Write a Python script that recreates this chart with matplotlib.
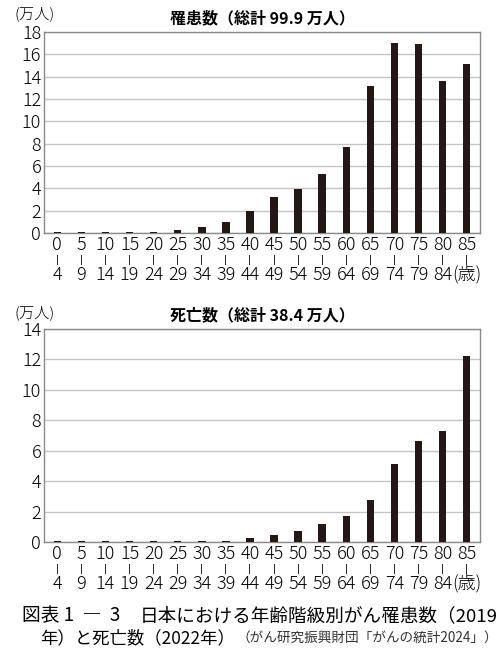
"""年齢階級別がん罹患数と死亡数（図表1-3）の再現。"""

import matplotlib

matplotlib.use("Agg")
import matplotlib.pyplot as plt
import numpy as np

plt.rcParams["font.family"] = ["Noto Sans CJK JP", "DejaVu Sans"]

# age groups (lower / upper bound)
age_lo = ["0", "5", "10", "15", "20", "25", "30", "35", "40",
          "45", "50", "55", "60", "65", "70", "75", "80", "85"]
age_hi = ["4", "9", "14", "19", "24", "29", "34", "39", "44",
          "49", "54", "59", "64", "69", "74", "79", "84", "(歳)"]

# 罹患数 2019 (万人)
incidence = [0.1, 0.1, 0.1, 0.1, 0.1, 0.3, 0.5, 1.0, 2.0,
             3.25, 3.95, 5.25, 7.75, 13.15, 17.05, 16.95, 13.65, 15.1]
# 死亡数 2022 (万人)
deaths = [0.08, 0.08, 0.08, 0.08, 0.08, 0.08, 0.08, 0.08, 0.24,
          0.46, 0.74, 1.18, 1.68, 2.76, 5.14, 6.67, 7.29, 12.23]

BAR = "#231815"
GRID = "#c4c4c4"
SPINE = "#8a8a8a"


def draw_panel(ax, values, ymax, title, unit_y):
    x = np.arange(len(values))
    ax.bar(x, values, width=0.31, color=BAR, zorder=3)
    ax.set_xlim(-0.55, len(values) - 0.45)
    ax.set_ylim(0, ymax)
    ax.set_yticks(np.arange(0, ymax + 1, 2))
    ax.grid(axis="y", color=GRID, lw=1.0, zorder=0)
    ax.tick_params(axis="y", length=0, pad=2, labelsize=13)
    ax.tick_params(axis="x", length=0, pad=2, labelsize=13)
    ax.set_xticks(x)
    ax.set_xticklabels([f"{lo}\nı\n{hi}" for lo, hi in zip(age_lo, age_hi)],
                       linespacing=0.78)
    for lab in ax.get_xticklabels() + ax.get_yticklabels():
        lab.set_fontweight("light")
    for s in ax.spines.values():
        s.set_color(SPINE)
        s.set_linewidth(1.0)
    ax.set_title(title, fontsize=11.5, fontweight="bold", pad=6)
    fig.text(0.03, 1 - unit_y / 664, "(万人)", fontsize=11, fontweight="light",
             ha="left", va="center")


fig = plt.figure(figsize=(5.0, 6.64), dpi=100)
ax1 = fig.add_axes([0.088, 0.649, 0.872, 0.3027])
ax2 = fig.add_axes([0.088, 0.1837, 0.872, 0.3208])

draw_panel(ax1, incidence, 18, "罹患数（総計 99.9 万人）", 14)
draw_panel(ax2, deaths, 14, "死亡数（総計 38.4 万人）", 313)

y1 = 1 - 616 / 664
y2 = 1 - 638 / 664
fig.text(0.044, y1, "図表 1  ―  3", fontsize=13.5, ha="left", va="center")
fig.text(0.28, y1, "日本における年齢階級別がん罹患数（2019",
         fontsize=13.4, ha="left", va="center")
fig.text(0.08, y2, "年）と死亡数（2022年）",
         fontsize=12.5, ha="left", va="center")
fig.text(0.474, y2, "（がん研究振興財団「がんの統計2024」）",
         fontsize=9.8, ha="left", va="center", color="#333333")

fig.savefig("out.png", dpi=100)
